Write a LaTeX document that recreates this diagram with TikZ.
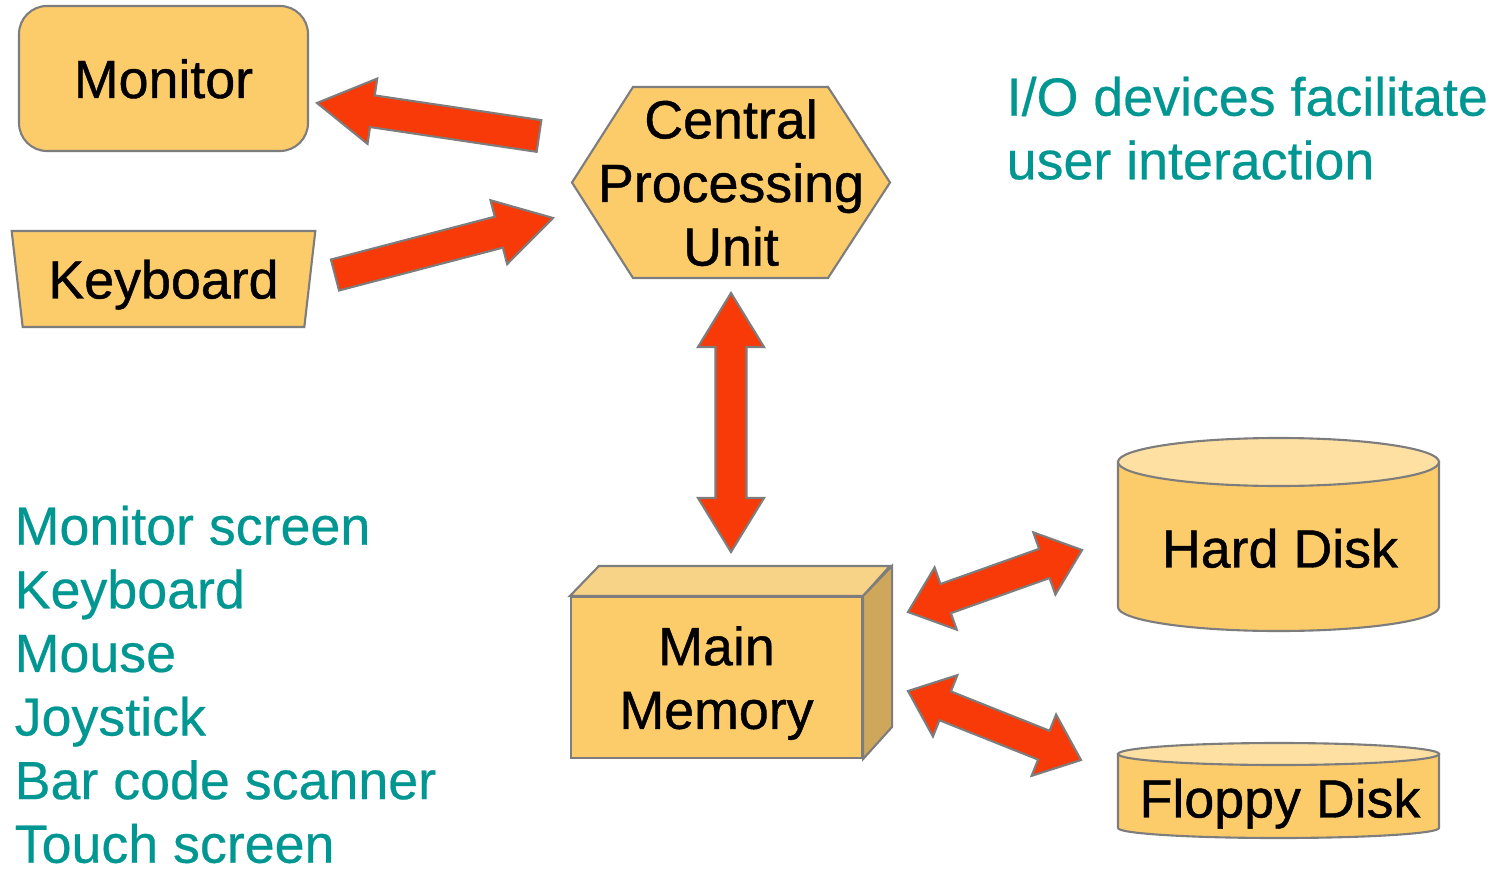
\documentclass[tikz,border=0pt]{standalone}
\usepackage{fontspec}
\setmainfont{Liberation Sans}
\newfontfamily\heavysf[FakeBold=0.8]{Liberation Sans}
\newfontfamily\notesf[FakeBold=0.4]{Liberation Sans}
\usepackage{tikz}
\usetikzlibrary{calc, shapes.geometric}

\definecolor{boxfill}{RGB}{252,204,106}
\definecolor{boxtop}{RGB}{246,211,134}
\definecolor{boxside}{RGB}{206,167,90}
\definecolor{disktop}{RGB}{253,224,162}
\definecolor{edgegray}{RGB}{125,125,125}
\definecolor{arrowred}{RGB}{247,58,8}
\definecolor{noteteal}{RGB}{0,150,146}

\newcommand{\bigsf}{\fontsize{15.3}{18.1}\selectfont}

% block arrow from #2 (tail) to #3 (tip), head length #1 in cm
\newcommand{\fatarrow}[3][0.56]{%
  \path (#2) coordinate (fa-s) (#3) coordinate (fa-t)
    ($(fa-t)!#1cm!(fa-s)$) coordinate (fa-h);
  \draw[fat] ($(fa-s)!0.16cm!90:(fa-t)$) -- ($(fa-h)!0.16cm!90:(fa-t)$)
    -- ($(fa-h)!0.33cm!90:(fa-t)$) -- (fa-t)
    -- ($(fa-h)!0.33cm!-90:(fa-t)$) -- ($(fa-h)!0.16cm!-90:(fa-t)$)
    -- ($(fa-s)!0.16cm!-90:(fa-t)$) -- cycle;}

% same, with a head at both ends
\newcommand{\fatdarrow}[3][0.56]{%
  \path (#2) coordinate (fa-s) (#3) coordinate (fa-t)
    ($(fa-t)!#1cm!(fa-s)$) coordinate (fa-h)
    ($(fa-s)!#1cm!(fa-t)$) coordinate (fa-g);
  \draw[fat] (fa-s) -- ($(fa-g)!0.33cm!90:(fa-t)$) -- ($(fa-g)!0.155cm!90:(fa-t)$)
    -- ($(fa-h)!0.155cm!90:(fa-t)$) -- ($(fa-h)!0.33cm!90:(fa-t)$) -- (fa-t)
    -- ($(fa-h)!0.33cm!-90:(fa-t)$) -- ($(fa-h)!0.155cm!-90:(fa-t)$)
    -- ($(fa-g)!0.155cm!-90:(fa-t)$) -- ($(fa-g)!0.33cm!-90:(fa-t)$) -- cycle;}

\begin{document}
\begin{tikzpicture}[
    face/.style={draw=edgegray, line width=0.6pt, fill=boxfill},
    devtext/.style={font=\heavysf\bigsf, text depth=0pt, align=center, inner sep=0pt},
    box/.style={face, devtext},
    fat/.style={draw=edgegray, line width=0.6pt, fill=arrowred, line join=miter},
    note/.style={text=noteteal, font=\notesf\bigsf, align=left, anchor=north west, inner sep=0pt},
]
\fill[white] (0,0) rectangle (15.07,-8.69);
\useasboundingbox (0,0) rectangle (15.07,-8.69);

% I/O devices
\node[box, rounded corners=0.28cm, minimum width=2.89cm, minimum height=1.45cm] (monitor) at (1.635,-0.785) {Monitor};
\node[box, trapezium, trapezium stretches=true, trapezium left angle=77, trapezium right angle=77,
  shape border rotate=180, minimum width=3.05cm, minimum height=0.96cm] (keyboard) at (1.635,-2.79) {Keyboard};

% processor
\draw[face] (5.72,-1.825) -- (6.33,-0.87) -- (8.28,-0.87) -- (8.90,-1.825) -- (8.28,-2.78) -- (6.33,-2.78) -- cycle;
\node[devtext] (cpu) at (7.31,-1.825) {Central\\Processing\\Unit};

% memory block
\node[box, minimum width=2.91cm, minimum height=1.61cm] (mem) at (7.165,-6.775) {Main\\Memory};
\draw[face, fill=boxtop] (mem.north west) -- ++(0.29,0.30) -- ++(2.91,0) -- (mem.north east) -- cycle;
\draw[face, fill=boxside] (mem.north east) -- ++(0.29,0.30) -- ++(0,-1.61) -- (mem.south east) -- cycle;

% disks
\draw[face] (11.18,-4.62) -- (11.18,-6.07) arc[start angle=180, end angle=360, x radius=1.605, y radius=0.24] -- (14.39,-4.62) -- cycle;
\draw[face, fill=disktop] (12.785,-4.62) ellipse [x radius=1.605, y radius=0.24];
\node[devtext] (hdd) at (12.80,-5.48) {Hard Disk};

\draw[face] (11.18,-7.54) -- (11.18,-8.28) arc[start angle=180, end angle=360, x radius=1.605, y radius=0.10] -- (14.39,-7.54) -- cycle;
\draw[face, fill=disktop] (12.785,-7.54) ellipse [x radius=1.605, y radius=0.11];
\node[devtext] (fdd) at (12.80,-7.98) {Floppy Disk};

% arrow ends
\coordinate (mon-tail) at (5.39,-1.36);
\coordinate (mon-tip) at (3.17,-1.03);
\coordinate (kb-tail) at (3.35,-2.75);
\coordinate (kb-tip) at (5.53,-2.18);
\coordinate (cpu-end) at (7.31,-2.93);
\coordinate (mem-end) at (7.31,-5.52);
\coordinate (hdd-l) at (9.08,-6.12);
\coordinate (hdd-r) at (10.82,-5.50);
\coordinate (fdd-l) at (9.08,-6.91);
\coordinate (fdd-r) at (10.81,-7.60);

\fatarrow{mon-tail}{mon-tip}
\fatarrow{kb-tail}{kb-tip}
\fatdarrow[0.54]{cpu-end}{mem-end}
\fatdarrow[0.40]{hdd-l}{hdd-r}
\fatdarrow[0.40]{fdd-l}{fdd-r}

% notes
\node[note] (hint) at (10.06,-0.76) {I/O devices facilitate\\user interaction};
\node[note] (devlist) at (0.14,-5.05) {Monitor screen\\Keyboard\\Mouse\\Joystick\\Bar code scanner\\Touch screen};
\end{tikzpicture}
\end{document}
